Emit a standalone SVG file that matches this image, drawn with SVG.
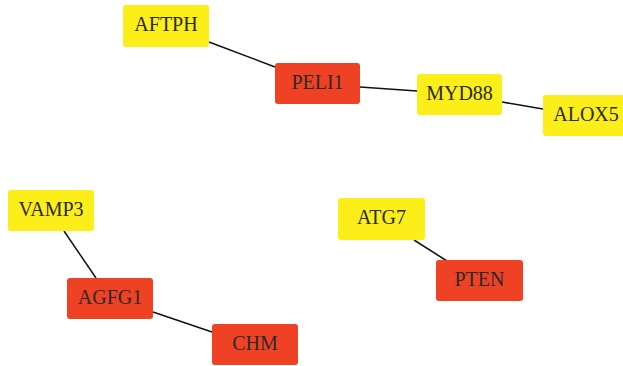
<svg xmlns="http://www.w3.org/2000/svg" width="623" height="366" viewBox="0 0 623 366">
<style>
.y{fill:#FCEE19;}
.r{fill:#EF4224;}
text{font-family:"Liberation Serif","Times New Roman",serif;font-size:20px;fill:#2a2a2a;text-anchor:middle;}
.e{stroke:#111;stroke-width:1.5;fill:none;}
</style>
<rect width="623" height="366" fill="#fff"/>
<g id="edges">
<line class="e" x1="209" y1="42" x2="275" y2="67"/>
<line class="e" x1="360" y1="87" x2="417" y2="91"/>
<line class="e" x1="502" y1="102" x2="543" y2="109"/>
<line class="e" x1="64" y1="231" x2="96" y2="278"/>
<line class="e" x1="153" y1="312" x2="212" y2="332"/>
<line class="e" x1="414" y1="240" x2="447" y2="261"/>
</g>
<g id="AFTPH"><rect class="y" x="123" y="5" width="86" height="42" rx="3"/><text x="166" y="31">AFTPH</text></g>
<g id="PELI1"><rect class="r" x="275" y="63" width="85" height="41" rx="3"/><text x="317.5" y="89">PELI1</text></g>
<g id="MYD88"><rect class="y" x="417" y="74" width="85" height="41" rx="3"/><text x="459.5" y="100">MYD88</text></g>
<g id="ALOX5"><rect class="y" x="543" y="95" width="86" height="41" rx="3"/><text x="586" y="121">ALOX5</text></g>
<g id="VAMP3"><rect class="y" x="8" y="190" width="86" height="41" rx="3"/><text x="51" y="216">VAMP3</text></g>
<g id="AGFG1"><rect class="r" x="67" y="278" width="86" height="41" rx="3"/><text x="110" y="304">AGFG1</text></g>
<g id="CHM"><rect class="r" x="212" y="324" width="86" height="41" rx="3"/><text x="255" y="350">CHM</text></g>
<g id="ATG7"><rect class="y" x="338" y="198" width="87" height="42" rx="3"/><text x="381.5" y="224">ATG7</text></g>
<g id="PTEN"><rect class="r" x="436" y="260" width="87" height="41" rx="3"/><text x="479.5" y="286">PTEN</text></g>
</svg>
